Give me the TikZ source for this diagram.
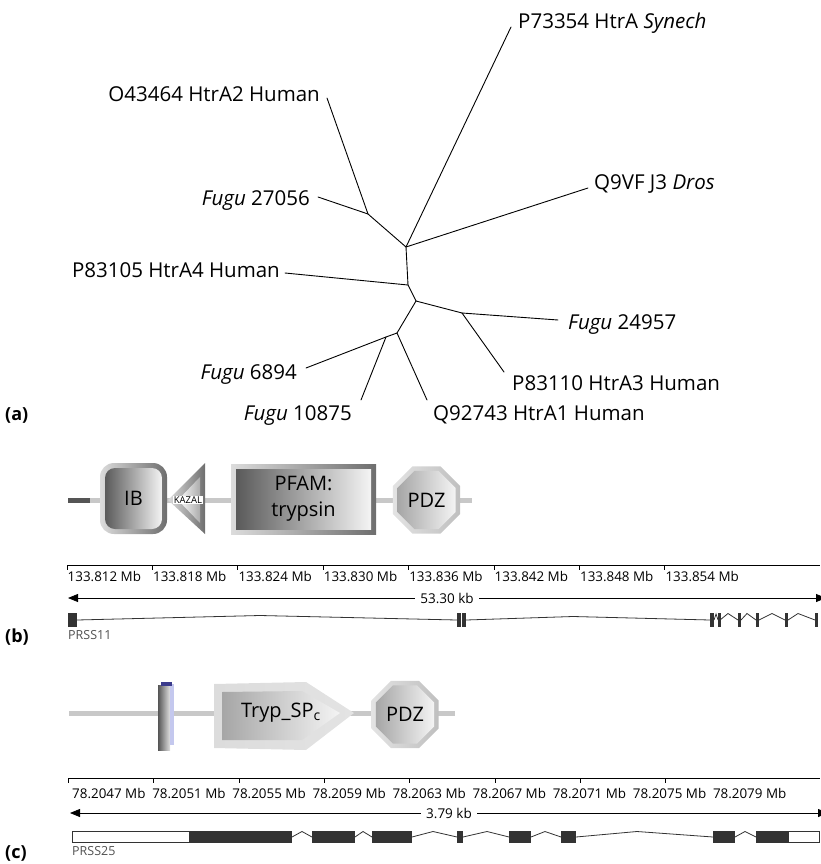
\documentclass[tikz,border=0pt]{standalone}
\usepackage{fontspec}
\setmainfont{Open Sans}
\usetikzlibrary{shapes.geometric,arrows.meta}

\definecolor{bbgray}{HTML}{C8C8C8}
\definecolor{bbdark}{HTML}{555555}
\definecolor{exdark}{HTML}{333333}
\definecolor{rimlight}{HTML}{DCDCDC}
\definecolor{rimdark}{HTML}{6E6E6E}
\definecolor{inndark}{HTML}{5A5A5A}
\definecolor{innlight}{HTML}{F4F4F4}
\definecolor{tmblue}{HTML}{3C3C8C}
\definecolor{tmpale}{HTML}{C4C8EE}
\definecolor{labgray}{HTML}{505050}

\tikzset{
  leaf/.style={inner sep=0pt, font=\fontsize{20.5}{24}\selectfont},
  branch/.style={line width=0.9pt, line cap=round},
  panel/.style={inner sep=0pt, anchor=base west, font=\fontsize{18}{20}\selectfont\bfseries},
  domtext/.style={font=\fontsize{20}{26}\selectfont},
  rim/.style={inner sep=0pt, left color=rimlight, right color=rimdark},
  core/.style={inner sep=0pt, left color=inndark, right color=innlight},
  backbone/.style={line width=5pt, bbgray},
  ticklab/.style={inner sep=0pt, anchor=north west, font=\fontsize{13.4}{15}\selectfont},
  scaleline/.style={line width=0.8pt},
  kblab/.style={fill=white, inner xsep=5pt, inner ysep=1pt, font=\fontsize{13.5}{15}\selectfont},
  exon/.style={fill=exdark},
  intron/.style={line width=0.8pt, exdark},
  genelab/.style={inner sep=0pt, anchor=north west, text=labgray, font=\fontsize{12.5}{14}\selectfont},
}

\begin{document}
\begin{tikzpicture}[x=1pt, y=-1pt, >={Triangle[length=10pt,width=8pt]}]
\useasboundingbox (0,0) rectangle (820,864);

% (a) unrooted tree
\coordinate (c0) at (406,247);
\coordinate (n1) at (368,214);
\coordinate (n2) at (408,285);
\coordinate (n3) at (416,301);
\coordinate (n4) at (462,313);
\coordinate (n5) at (397,333);
\coordinate (n6) at (386,337);

\coordinate (synE) at (511,27);
\coordinate (o43E) at (327,98);
\coordinate (f27E) at (318,197);
\coordinate (drosE) at (588,188);
\coordinate (p105E) at (285,273);
\coordinate (f249E) at (558,320);
\coordinate (p110E) at (504,372);
\coordinate (f689E) at (306,368);
\coordinate (f108E) at (361,400);
\coordinate (q927E) at (427,400);

\node[leaf, anchor=base west] (synL) at (518,29) {P73354 HtrA \textit{Synech}};
\node[leaf, anchor=base east] (o43L) at (320,102) {O43464 HtrA2 Human};
\node[leaf, anchor=base east] (f27L) at (310,205) {\textit{Fugu} 27056};
\node[leaf, anchor=base west] (drosL) at (594,189) {Q9VF J3 \textit{Dros}};
\node[leaf, anchor=base east] (p105L) at (280,277) {P83105 HtrA4 Human};
\node[leaf, anchor=base west] (f249L) at (568,329) {\textit{Fugu} 24957};
\node[leaf, anchor=base west] (p110L) at (512,390) {P83110 HtrA3 Human};
\node[leaf, anchor=base east] (f689L) at (297,379) {\textit{Fugu} 6894};
\node[leaf, anchor=base east] (f108L) at (352,420) {\textit{Fugu} 10875};
\node[leaf, anchor=base west] (q927L) at (433,420) {Q92743 HtrA1 Human};

\foreach \u/\v in {synE/c0, o43E/n1, f27E/n1, n1/c0, drosE/c0, c0/n2, p105E/n2,
    n2/n3, n3/n4, n4/f249E, n4/p110E, n3/n5, n5/n6, n6/f689E, n6/f108E, n5/q927E}
  \draw[branch] (\u) -- (\v);

\node[panel] (pa) at (5,420) {(a)};

% (b) PRSS11 domains
\coordinate (bS) at (68,500);
\coordinate (bL) at (90,500);
\coordinate (bR) at (472,500);
\draw[line width=5pt, bbdark] (bS) -- (bL);
\draw[backbone] (bL) -- (bR);

\node[rim, rounded corners=14pt, minimum width=67pt, minimum height=71pt] (ibrim) at (133.5,498.5) {};
\node[core, domtext, rounded corners=10pt, minimum width=57pt, minimum height=61pt] (ib) at (ibrim) {IB};

\shade[left color=rimlight, right color=rimdark] (168,500) -- (205,463) -- (205,534) -- cycle;
\shade[left color=white, right color=gray!65] (178,500) -- (200,477) -- (200,523) -- cycle;
\node[fill=white, inner sep=0.6pt, font=\fontsize{9.5}{10}\selectfont] (kazal) at (188,500) {KAZAL};

\node[rim, minimum width=145pt, minimum height=70pt] (pfrim) at (303.5,499) {};
\node[core, domtext, align=center, minimum width=135pt, minimum height=60pt] (pfam) at (pfrim) {PFAM:\\trypsin};

\node[regular polygon, regular polygon sides=8, inner sep=0pt, minimum size=73pt,
  left color=gray!22, right color=gray!50] (pdzbrim) at (426.5,500) {};
\node[regular polygon, regular polygon sides=8, inner sep=0pt, minimum size=63pt,
  left color=gray!70, right color=innlight, domtext] (pdzb) at (pdzbrim) {PDZ};

% (b) scale
\coordinate (bsL) at (67,565);
\coordinate (bsR) at (820,565);
\draw[scaleline] (bsL) -- (bsR);
\foreach \i/\t in {0/812,1/818,2/824,3/830,4/836,5/842,6/848,7/854} {
  \draw[scaleline] ({67+85.4*\i},565) -- ({67+85.4*\i},569.5);
  \node[ticklab] (bt\i) at ({67.5+85.4*\i},571) {133.\t\ Mb};
}
\coordinate (bkL) at (68,598);
\coordinate (bkR) at (826,598);
\draw[scaleline, <->] (bkL) -- node[kblab] (bkb) {53.30 kb} (bkR);

% (b) gene model
\foreach \a/\m/\b/\h in {77/260/457/615.5, 466/573/710/616.5, 714/716/718/614,
    720/728/738/613.5, 741/747/756/613.5, 759/772/785/613.5, 788/798/815/613.5}
  \draw[intron] (\a,620) -- (\m,\h) -- (\b,620);
\foreach \a/\b in {68/77, 457/460.5, 462/466, 710/714, 718/720.5, 738/741, 756/759, 785/788, 815/818}
  \fill[exon] (\a,613) rectangle (\b,627);
\node[genelab] (prss11) at (68,630) {PRSS11};

\node[panel] (pb) at (5,642) {(b)};

% (c) PRSS25 domains
\coordinate (cL) at (69,713);
\coordinate (cR) at (455,713);
\draw[backbone] (cL) -- (cR);

\shade[left color=bbdark, right color=gray!25] (158,685) rectangle (170,750);
\fill[tmpale] (170,684) rectangle (174,745);
\fill[tmblue] (161,682) rectangle (172,686);

\shade[left color=rimlight, right color=gray!22] (214,684) -- (306,682) -- (354,713) -- (306,750) -- (214,748) -- cycle;
\shade[left color=gray!70, right color=innlight] (222,692) -- (302,691) -- (340,713) -- (302,740) -- (222,740) -- cycle;
\node[domtext, inner sep=0pt] (tryp) at (281,713) {Tryp\_SP\textsubscript{c}};

\node[regular polygon, regular polygon sides=8, inner sep=0pt, minimum size=73pt,
  left color=gray!22, right color=gray!50] (pdzcrim) at (405,714.5) {};
\node[regular polygon, regular polygon sides=8, inner sep=0pt, minimum size=63pt,
  left color=gray!70, right color=innlight, domtext] (pdzc) at (pdzcrim) {PDZ};

% (c) scale
\coordinate (csL) at (68,778);
\coordinate (csR) at (820,778);
\draw[scaleline] (csL) -- (csR);
\foreach \i in {0,...,7}
  \draw[scaleline] ({68.5+85.3*\i},778) -- ({68.5+85.3*\i},782.5);
\foreach \i/\t in {0/2047,1/2051,2/2055,3/2059,4/2063,5/2067,6/2071,7/2075,8/2079}
  \node[ticklab] (ct\i) at ({72+80.1*\i},788) {78.\t\ Mb};
\coordinate (ckL) at (70,813);
\coordinate (ckR) at (828,813);
\draw[scaleline, <->] (ckL) -- node[kblab] (ckb) {3.79 kb} (ckR);

% (c) gene model
\foreach \a/\m/\b in {292/302/312, 355/363/372, 412/433/457, 463/487/509,
    531/545/561, 576/637/713, 735/745/756}
  \draw[intron] (\a,837) -- (\m,831.5) -- (\b,837);
\draw[exdark, line width=0.8pt, fill=white] (72,831) rectangle (189,842);
\draw[exdark, line width=0.8pt, fill=white] (788,831) rectangle (819,842);
\foreach \a/\b in {189/292, 312/355, 372/412, 457/463, 509/531, 561/576, 713/735, 756/788}
  \fill[exon] (\a,831) rectangle (\b,842.5);
\node[genelab] (prss25) at (72,846) {PRSS25};

\node[panel] (pc) at (5,858) {(c)};
\end{tikzpicture}
\end{document}
